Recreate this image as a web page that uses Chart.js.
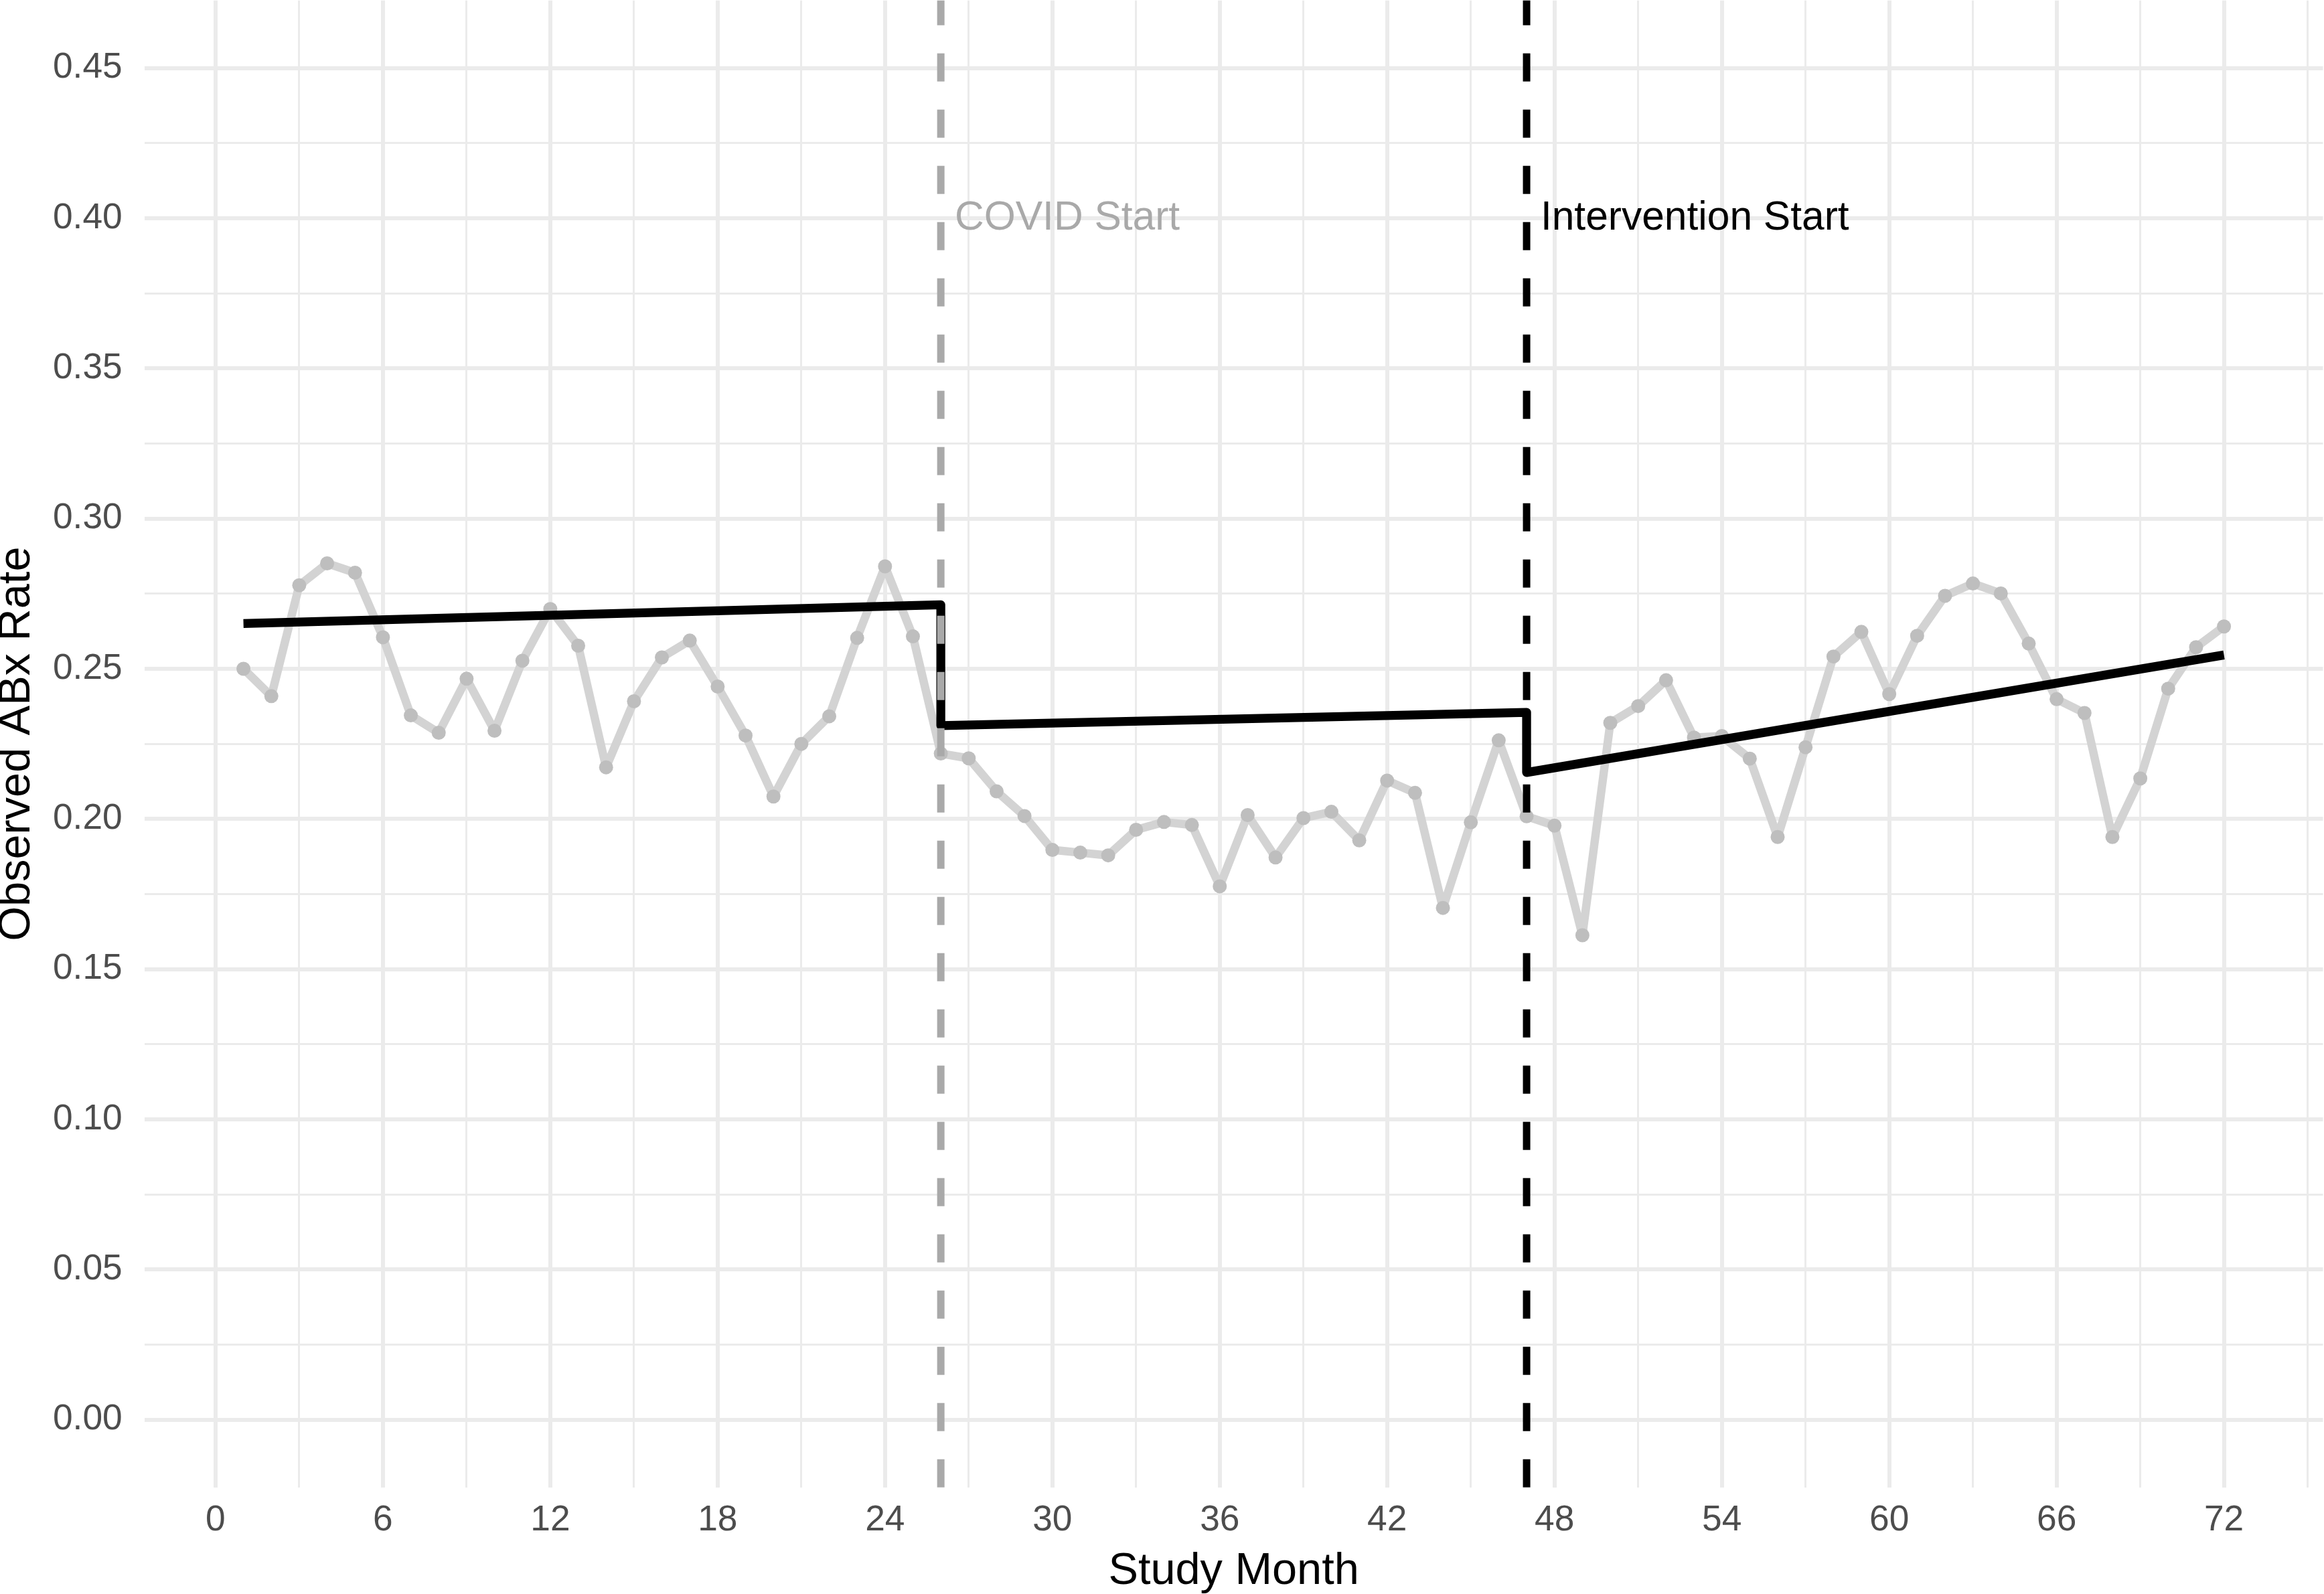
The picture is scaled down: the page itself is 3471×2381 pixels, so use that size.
<!DOCTYPE html>
<html>
<head>
<meta charset="utf-8">
<title>Observed ABx Rate by Study Month</title>
<script src="https://cdn.jsdelivr.net/npm/chart.js@4.4.1/dist/chart.umd.min.js"></script>
<style>
  html, body { margin: 0; padding: 0; background: #fff; }
  #chart { display: block; }
</style>
</head>
<body>
<canvas id="chart" width="3471" height="2381"></canvas>
<script>
const months = [
  1, 2, 3, 4, 5, 6, 7, 8, 9, 10, 11, 12, 13, 14, 15, 16, 17, 18,
  19, 20, 21, 22, 23, 24, 25, 26, 27, 28, 29, 30, 31, 32, 33, 34, 35, 36,
  37, 38, 39, 40, 41, 42, 43, 44, 45, 46, 47, 48, 49, 50, 51, 52, 53, 54,
  55, 56, 57, 58, 59, 60, 61, 62, 63, 64, 65, 66, 67, 68, 69, 70, 71, 72
];

const observedRate = [
  0.2500, 0.2409, 0.2778, 0.2851, 0.2820, 0.2605, 0.2345, 0.2287, 0.2467, 0.2294, 0.2527, 0.2699,
  0.2577, 0.2172, 0.2392, 0.2538, 0.2594, 0.2441, 0.2278, 0.2075, 0.2250, 0.2342, 0.2603, 0.2841,
  0.2608, 0.2218, 0.2202, 0.2092, 0.2010, 0.1897, 0.1888, 0.1879, 0.1964, 0.1990, 0.1980, 0.1776,
  0.2013, 0.1872, 0.2003, 0.2024, 0.1929, 0.2128, 0.2087, 0.1704, 0.1989, 0.2262, 0.2009, 0.1978,
  0.1613, 0.2320, 0.2376, 0.2462, 0.2271, 0.2276, 0.2201, 0.1940, 0.2239, 0.2541, 0.2623, 0.2416,
  0.2610, 0.2743, 0.2784, 0.2751, 0.2584, 0.2399, 0.2353, 0.1940, 0.2135, 0.2434, 0.2572, 0.2641
];

// segmented regression fit (drops at COVID and intervention start)
const trendMonths = [1, 26, 26, 47, 47, 72];
const trendRate = [0.2651, 0.2713, 0.2311, 0.2355, 0.2155, 0.2546];

const xGridMonths = [0, 3, 6, 9, 12, 15, 18, 21, 24, 27, 30, 33, 36, 39, 42, 45, 48, 51, 54, 57, 60, 63, 66, 69, 72, 75];
const yGridValues = [0, 0.025, 0.05, 0.075, 0.1, 0.125, 0.15, 0.175, 0.2, 0.225, 0.25, 0.275, 0.3, 0.325, 0.35, 0.375, 0.4, 0.425, 0.45];

const eventMonths = [26, 47];
const eventLabels = ["COVID Start", "Intervention Start"];
const eventColors = ["#A9A9A9", "#000000"];
const eventLabelY = 0.40;

const FONT = '"Liberation Sans", Arial, Helvetica, sans-serif';

const eventLines = {
  id: "eventLines",
  afterDatasetsDraw(chart) {
    const { ctx, chartArea, scales } = chart;
    ctx.save();
    eventMonths.forEach((m, i) => {
      const px = scales.x.getPixelForValue(m);
      ctx.beginPath();
      ctx.setLineDash([42, 42]);
      ctx.lineWidth = 11;
      ctx.lineCap = "butt";
      ctx.strokeStyle = eventColors[i];
      ctx.moveTo(px, chartArea.bottom);
      ctx.lineTo(px, chartArea.top);
      ctx.stroke();

      ctx.setLineDash([]);
      ctx.fillStyle = eventColors[i];
      ctx.font = "60.5px " + FONT;
      ctx.textAlign = "left";
      ctx.textBaseline = "middle";
      ctx.fillText(eventLabels[i], scales.x.getPixelForValue(m + 0.5), scales.y.getPixelForValue(eventLabelY));
    });
    ctx.restore();
  },
};

const isMajorX = (v) => v % 6 === 0;
const isMajorY = (v) => Math.round(v * 1000) % 50 === 0;

new Chart(document.getElementById("chart"), {
  type: "line",
  data: {
    datasets: [
      {
        label: "Fitted",
        data: trendMonths.map((m, i) => ({ x: m, y: trendRate[i] })),
        borderColor: "#000000",
        borderWidth: 13.3,
        borderJoinStyle: "round",
        borderCapStyle: "butt",
        pointRadius: 0,
        tension: 0,
        order: 0,
      },
      {
        label: "Observed",
        data: months.map((m, i) => ({ x: m, y: observedRate[i] })),
        borderColor: "#D3D3D3",
        borderWidth: 12.5,
        borderJoinStyle: "round",
        pointRadius: 10.5,
        pointBackgroundColor: "#BEBEBE",
        pointBorderWidth: 0,
        tension: 0,
        order: 1,
      },
    ],
  },
  options: {
    responsive: false,
    animation: false,
    devicePixelRatio: 1,
    layout: {
      autoPadding: false,
      padding: { top: 0.7, right: 1.5, left: 0, bottom: 0 },
    },
    plugins: {
      legend: { display: false },
      tooltip: { enabled: false },
    },
    scales: {
      x: {
        type: "linear",
        min: -2.55,
        max: 75.55,
        afterBuildTicks: (scale) => {
          scale.ticks = xGridMonths.map((v) => ({ value: v }));
        },
        afterFit: (scale) => {
          scale.height = 159.3;
          scale.paddingLeft = 0;
          scale.paddingRight = 0;
        },
        border: { display: false },
        grid: {
          color: "#EBEBEB",
          lineWidth: (c) => (c.tick && isMajorX(c.tick.value) ? 6 : 3),
          drawTicks: false,
        },
        ticks: {
          autoSkip: false,
          maxRotation: 0,
          padding: 18,
          color: "#4D4D4D",
          font: { family: FONT, size: 53.3, lineHeight: 1.2 },
          callback: (v) => (isMajorX(v) ? String(v) : ""),
        },
        title: {
          display: true,
          text: "Study Month",
          color: "#000000",
          font: { family: FONT, size: 66.7, lineHeight: 1 },
          padding: { top: 4, bottom: 0 },
        },
      },
      y: {
        type: "linear",
        min: -0.0225,
        max: 0.4725,
        afterBuildTicks: (scale) => {
          scale.ticks = yGridValues.map((v) => ({ value: v }));
        },
        afterFit: (scale) => {
          scale.width = 215.7;
          scale.paddingTop = 0;
          scale.paddingBottom = 0;
        },
        border: { display: false },
        grid: {
          color: "#EBEBEB",
          lineWidth: (c) => (c.tick && isMajorY(c.tick.value) ? 6 : 3),
          drawTicks: false,
        },
        ticks: {
          autoSkip: false,
          padding: 33,
          color: "#4D4D4D",
          font: { family: FONT, size: 53.3, lineHeight: 1.2 },
          callback: (v) => (isMajorY(v) ? v.toFixed(2) : ""),
        },
        title: {
          display: true,
          text: "Observed ABx Rate",
          color: "#000000",
          font: { family: FONT, size: 66.7, lineHeight: 0.78 },
          padding: 0,
        },
      },
    },
  },
  plugins: [eventLines],
});
</script>
</body>
</html>
